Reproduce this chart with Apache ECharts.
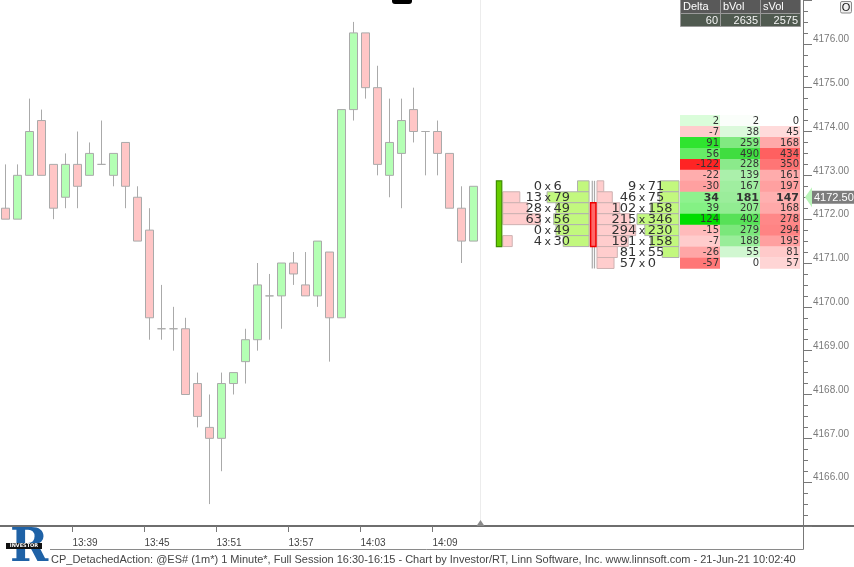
<!DOCTYPE html>
<html>
<head>
<meta charset="utf-8">
<script src="https://cdn.jsdelivr.net/npm/echarts@6.0.0/dist/echarts.min.js"></script>
<style>
html,body{margin:0;padding:0;background:#ffffff;}
#chart{width:854px;height:567px;}
</style>
</head>
<body>
<div id="chart"></div>
<script>
// ---------- data ----------
const times = ['13:33','13:34','13:35','13:36','13:37','13:38','13:39','13:40','13:41','13:42','13:43','13:44','13:45','13:46','13:47','13:48','13:49','13:50','13:51','13:52','13:53','13:54','13:55','13:56','13:57','13:58','13:59','14:00','14:01','14:02','14:03','14:04','14:05','14:06','14:07','14:08','14:09','14:10','14:11','14:12'];
const opens  = [4172.25,4172.0,4173.0,4174.25,4173.25,4172.5,4173.25,4173.0,4173.25,4173.0,4173.75,4172.5,4171.75,4169.5,4169.5,4169.5,4168.25,4167.25,4167.0,4168.25,4168.75,4169.25,4170.25,4170.25,4171.0,4170.5,4170.25,4171.25,4169.75,4174.5,4176.25,4175.0,4173.0,4173.5,4174.5,4174.0,4174.0,4173.5,4172.25,4171.5];
const closes = [4172.0,4173.0,4174.0,4173.0,4172.25,4173.25,4172.75,4173.5,4173.25,4173.5,4172.75,4171.5,4169.75,4169.5,4169.5,4168.0,4167.5,4167.0,4168.25,4168.5,4169.25,4170.5,4170.25,4171.0,4170.75,4170.25,4171.5,4169.75,4174.5,4176.25,4175.0,4173.25,4173.75,4174.25,4174.0,4174.0,4173.5,4172.25,4171.5,4172.75];
const lows   = [4172.0,4172.0,4173.0,4173.0,4172.0,4172.25,4172.25,4173.0,4173.25,4172.75,4172.25,4171.5,4169.25,4169.25,4169.0,4168.0,4167.25,4165.5,4166.25,4168.0,4168.25,4169.0,4169.25,4169.5,4170.5,4170.25,4170.0,4168.75,4169.75,4174.25,4174.75,4173.0,4172.5,4172.25,4173.75,4173.0,4173.0,4172.25,4171.0,4171.5];
const highs  = [4173.25,4173.25,4174.75,4174.5,4173.25,4173.5,4174.0,4173.75,4174.25,4173.5,4173.75,4172.75,4172.25,4170.5,4170.0,4169.75,4168.5,4168.0,4168.5,4168.5,4169.5,4171.0,4170.75,4171.0,4171.25,4171.25,4171.5,4171.25,4174.5,4176.5,4176.25,4175.5,4174.75,4174.75,4175.0,4174.0,4174.25,4173.5,4172.75,4172.75];
const timeTickLabels = ['13:39','13:45','13:51','13:57','14:03','14:09'];
const priceTickLabels = ['4166.00','4167.00','4168.00','4169.00','4170.00','4171.00','4172.00','4173.00','4174.00','4175.00','4176.00'];

// detached footprints (sell x buy per price)
const footprintSlots = [41.15, 49];
const fp1Prices = [4172.75,4172.5,4172.25,4172.0,4171.75,4171.5];
const fp1Sell   = [0,13,28,63,0,4];
const fp1Buy    = [6,79,49,56,49,30];
const fp1Ohlc   = [4171.5,4172.75,4171.5,4172.75]; // open, close, low, high
const fp2Prices = [4172.75,4172.5,4172.25,4172.0,4171.75,4171.5,4171.25,4171.0];
const fp2Sell   = [9,46,102,215,294,191,81,57];
const fp2Buy    = [71,75,158,346,230,158,55,0];
const fp2Ohlc   = [4172.25,4171.5,4171.0,4172.75];

// profile table
const tableHeaders = ['Delta','bVol','sVol'];
const tableTotals  = [60,2635,2575];
const tablePrices  = [4174.25,4174.0,4173.75,4173.5,4173.25,4173.0,4172.75,4172.5,4172.25,4172.0,4171.75,4171.5,4171.25,4171.0];
const tableDelta   = [2,-7,91,56,-122,-22,-30,34,39,124,-15,-7,-26,-57];
const tableBVol    = [2,38,259,490,228,139,167,181,207,402,279,188,55,0];
const tableSVol    = [0,45,168,434,350,161,197,147,168,278,294,195,81,57];
const lastPrice = 4172.5;
const footerText = 'CP_DetachedAction: @ES# (1m*) 1 Minute*, Full Session 16:30-16:15 - Chart by Investor/RT, Linn Software, Inc. www.linnsoft.com - 21-Jun-21 10:02:40';

// ---------- helpers ----------
const TICK = 0.25;
function mix(a, b, t) {
  t = Math.max(0, Math.min(1, t));
  return 'rgb(' + a.map((v, i) => Math.round(v + (b[i] - v) * t)).join(',') + ')';
}
const maxPosD = Math.max(...tableDelta), maxNegD = -Math.min(...tableDelta);
const maxB = Math.max(...tableBVol), maxS = Math.max(...tableSVol);
function cellColor(col, v) {
  if (col === 0) {
    return v >= 0 ? mix([228,255,228],[0,221,0], Math.pow(v / maxPosD, 0.75))
                  : mix([255,226,226],[255,36,36], Math.pow(-v / maxNegD, 0.75));
  }
  if (col === 1) return mix([255,255,255],[64,221,64], Math.pow(v / maxB, 0.65));
  return mix([255,255,255],[255,96,96], Math.pow(v / maxS, 0.65));
}

const candleData = times.map((t, i) => [i, opens[i], closes[i], lows[i], highs[i]]);
const tickPos = timeTickLabels.map(l => times.indexOf(l) - 0.4);

function fpRows(slot, prices, sell, buy) {
  const mx = Math.max(...sell, ...buy);
  return prices.map((p, i) => [slot, p, sell[i], buy[i], mx]);
}
const fpRowData = fpRows(footprintSlots[0], fp1Prices, fp1Sell, fp1Buy)
  .concat(fpRows(footprintSlots[1], fp2Prices, fp2Sell, fp2Buy));
const fpCandleData = [
  [footprintSlots[0]].concat(fp1Ohlc),
  [footprintSlots[1]].concat(fp2Ohlc)
];
const tableData = tablePrices.map((p, i) => [p, tableDelta[i], tableBVol[i], tableSVol[i]]);
const priceLabelData = priceTickLabels.map(s => [parseFloat(s)]);

const FP_FONT = '13px "DejaVu Sans"';

function renderFpRow(params, api) {
  const slot = api.value(0), price = api.value(1), sell = api.value(2), buy = api.value(3), mx = api.value(4);
  const cs = params.coordSys;
  const c = api.coord([slot, price]);
  const h = api.size([0, TICK])[1];
  const top = c[1] - h / 2;
  const xs = c[0] + 3.7;
  const xr = Math.min(c[0] + 90, cs.x + cs.width - 124);
  const xc = c[0] + 48;
  const maxW = 42;
  const children = [];
  if (sell > 0) {
    const w = maxW * Math.sqrt(sell / mx);
    children.push({type:'rect', shape:{x: xs, y: top, width: w, height: h},
      style:{fill:'#ffcdcd', stroke:'#cdb2b2', lineWidth:1}, z2: 1});
  }
  if (buy > 0) {
    const w = maxW * Math.sqrt(buy / mx);
    children.push({type:'rect', shape:{x: xr - w, y: top, width: w, height: h},
      style:{fill:'#c2f87e', stroke:'#b0b0b0', lineWidth:1}, z2: 1});
  }
  children.push({type:'text', z2: 5, style:{text: String(sell), x: xc - 5, y: c[1] + 0.5, align:'right', verticalAlign:'middle', fill:'#333', font: FP_FONT}});
  children.push({type:'text', z2: 5, style:{text: 'x', x: xc + 0.7, y: c[1] + 1, align:'center', verticalAlign:'middle', fill:'#333', font: '11px "DejaVu Sans"'}});
  children.push({type:'text', z2: 5, style:{text: String(buy), x: xc + 6.5, y: c[1] + 0.5, align:'left', verticalAlign:'middle', fill:'#333', font: FP_FONT}});
  return {type:'group', children};
}

function renderFpCandle(params, api) {
  const slot = api.value(0), o = api.value(1), cl = api.value(2), lo = api.value(3), hi = api.value(4);
  const half = TICK / 2;
  const x = api.coord([slot, o])[0];
  const yHi = api.coord([slot, hi + half])[1], yLo = api.coord([slot, lo - half])[1];
  const yTop = api.coord([slot, Math.max(o, cl) + half])[1], yBot = api.coord([slot, Math.min(o, cl) - half])[1];
  const up = cl >= o;
  const children = [
    {type:'line', shape:{x1: x - 1, y1: yHi, x2: x - 1, y2: yLo}, style:{stroke:'#aaaaaa', lineWidth:1.2}},
    {type:'line', shape:{x1: x + 1.2, y1: yHi, x2: x + 1.2, y2: yLo}, style:{stroke:'#aaaaaa', lineWidth:1.2}},
    {type:'rect', shape:{x: x - 2.7, y: yTop, width: 5.4, height: yBot - yTop},
      style: up ? {fill:'#66cc00', stroke:'#3f8f00', lineWidth:1.2} : {fill:'#ff6868', stroke:'#ee0000', lineWidth:1.5}}
  ];
  return {type:'group', children};
}

function renderTable(params, api) {
  const price = api.value(0);
  const vals = [api.value(1), api.value(2), api.value(3)];
  const cs = params.coordSys;
  const right = cs.x + cs.width;
  const yc = api.coord([0, price])[1];
  const h = api.size([0, TICK])[1];
  const colW = 40, left0 = right - 3 * colW - 3;
  const bold = price === lastPrice;
  const children = [];
  vals.forEach((v, i) => {
    const x = left0 + i * colW;
    children.push({type:'rect', shape:{x: x, y: yc - h / 2, width: colW, height: h + 0.3}, style:{fill: cellColor(i, v)}});
    children.push({type:'text', z2: 3, style:{text: String(v), x: x + colW - 1, y: yc + 0.5, align:'right', verticalAlign:'middle',
      fill:'#333', font: bold ? 'bold 11px "DejaVu Sans"' : '10px "DejaVu Sans"'}});
  });
  return {type:'group', children};
}

function renderPriceLabel(params, api) {
  const cs = params.coordSys;
  const right = cs.x + cs.width;
  const y = api.coord([0, api.value(0)])[1];
  return {type:'text', style:{text: priceTickLabels[params.dataIndex], x: right + 10, y: y - 4.5,
    align:'left', verticalAlign:'middle', fill:'#7a7a7a', font:'10px "Liberation Sans"'}};
}

function renderLastPrice(params, api) {
  const cs = params.coordSys;
  const right = cs.x + cs.width;
  const y = api.coord([0, api.value(0)])[1];
  return {type:'group', children:[
    {type:'polygon', shape:{points:[[right + 2, y], [right + 9, y - 10], [right + 9, y + 10]]}, style:{fill:'#b8f4b8'}},
    {type:'rect', shape:{x: right + 9, y: y - 6.5, width: 45, height: 13}, style:{fill:'#7d7d7d'}},
    {type:'text', style:{text: api.value(0).toFixed(2), x: right + 11, y: y + 0.5, align:'left', verticalAlign:'middle', fill:'#ffffff', font:'11px "Liberation Sans"'}}
  ]};
}

function renderSeparator(params, api) {
  const cs = params.coordSys;
  const x = Math.round(api.coord([api.value(0), 4170])[0]) + 0.5;
  const bottom = cs.y + cs.height;
  return {type:'group', children:[
    {type:'line', shape:{x1: x, y1: 0, x2: x, y2: bottom}, style:{stroke:'#ececec', lineWidth:1}},
    {type:'polygon', shape:{points:[[x, bottom - 6], [x - 4, bottom], [x + 4, bottom]]}, style:{fill:'#8a8a8a'}}
  ]};
}

// ---------- static decorations ----------
const graphics = [
  {type:'line', shape:{x1:803, y1:526, x2:854, y2:526}, style:{stroke:'#6e6e6e', lineWidth:2}},
  {type:'line', shape:{x1:803.5, y1:526, x2:803.5, y2:549.5}, style:{stroke:'#777', lineWidth:1}},
  {type:'line', shape:{x1:50, y1:549.5, x2:803.5, y2:549.5}, style:{stroke:'#8a8a8a', lineWidth:1}},
  {type:'text', style:{text: footerText, x: 51, y: 560, verticalAlign:'middle', fill:'#454545', font:'11px "Liberation Sans"'}},
  // top black tab
  {type:'rect', shape:{x:392, y:-4, width:20, height:8, r:3}, style:{fill:'#000'}},
  // O button
  {type:'rect', shape:{x:840.5, y:1.5, width:11, height:11.5, r:1.5}, style:{fill:'#f0f0f0', stroke:'#8a8a8a', lineWidth:1}},
  {type:'text', style:{text:'O', x:846, y:7.5, align:'center', verticalAlign:'middle', fill:'#111', font:'11px "Liberation Sans"'}},
  // logo
  {type:'text', style:{text:'R', x: 10, y: 526, fill:'#1f62a6', font:'bold 46px "DejaVu Serif"'}},
  {type:'rect', shape:{x:6, y:543, width:36, height:6}, style:{fill:'#111'}},
  {type:'text', style:{text:'INVESTOR', x:24, y:546, align:'center', verticalAlign:'middle', fill:'#ffffff', font:'bold 5px "DejaVu Sans"'}}
];
tableHeaders.forEach((hd, i) => {
  const x = 680 + i * 40;
  graphics.push({type:'rect', shape:{x: x + 0.5, y: -0.5, width: 40, height: 14}, style:{fill:'#595959', stroke:'#9a9a9a', lineWidth:1}});
  graphics.push({type:'text', style:{text: hd, x: x + 3, y: 7, verticalAlign:'middle', fill:'#ffffff', font:'11px "Liberation Sans"'}});
  graphics.push({type:'rect', shape:{x: x + 0.5, y: 13.5, width: 40, height: 13}, style:{fill:'#505a50', stroke:'#9a9a9a', lineWidth:1}});
  graphics.push({type:'text', style:{text: String(tableTotals[i]), x: x + 38, y: 20.5, align:'right', verticalAlign:'middle', fill:'#f4f4f4', font:'11px "Liberation Sans"'}});
});

const option = {
  animation: false,
  backgroundColor: '#ffffff',
  grid: {left: 0, right: 51, top: -6.8, bottom: 41, containLabel: false},
  xAxis: {
    type: 'value',
    min: -0.44,
    max: -0.44 + 803 / 12,
    splitLine: {show: false},
    axisLine: {show: true, onZero: false, lineStyle: {color: '#6e6e6e', width: 2}},
    axisTick: {show: true, customValues: tickPos, length: 6, lineStyle: {color: '#777'}},
    axisLabel: {
      customValues: tickPos,
      formatter: v => timeTickLabels[tickPos.findIndex(p => Math.abs(p - v) < 0.01)] || '',
      align: 'left', color: '#444', fontSize: 10, fontFamily: 'Liberation Sans', margin: 12
    }
  },
  yAxis: {
    type: 'value',
    position: 'right',
    min: 4165,
    max: 4177,
    interval: 1,
    splitLine: {show: false},
    axisLine: {show: true, onZero: false, lineStyle: {color: '#777', width: 1}},
    axisTick: {show: true, length: 9, lineStyle: {color: '#777'}},
    minorTick: {show: true, splitNumber: 4, length: 5, lineStyle: {color: '#777'}},
    axisLabel: {show: false}
  },
  graphic: graphics,
  series: [
    {
      type: 'custom', name: 'separator', clip: false, silent: true, z: 1,
      renderItem: renderSeparator, data: [[times.length - 0.44]], encode: {x: 0}
    },
    {
      type: 'candlestick', name: 'ES', z: 2,
      data: candleData,
      encode: {x: 0, y: [1, 2, 3, 4]},
      barWidth: 8,
      itemStyle: {color: '#b4ffb4', color0: '#ffc6c6', borderColor: '#aaaaaa', borderColor0: '#aaaaaa', borderColorDoji: '#aaaaaa', borderWidth: 1}
    },
    {
      type: 'custom', name: 'footprintRows', clip: false, z: 3,
      renderItem: renderFpRow, data: fpRowData, encode: {x: 0, y: 1}
    },
    {
      type: 'custom', name: 'footprintCandles', clip: false, z: 4,
      renderItem: renderFpCandle, data: fpCandleData, encode: {x: 0, y: [1, 2, 3, 4]}
    },
    {
      type: 'custom', name: 'profileTable', clip: false, z: 3,
      renderItem: renderTable, data: tableData, encode: {y: 0}
    },
    {
      type: 'custom', name: 'priceLabels', clip: false, silent: true, z: 5,
      renderItem: renderPriceLabel, data: priceLabelData, encode: {y: 0}
    },
    {
      type: 'custom', name: 'lastPrice', clip: false, z: 6,
      renderItem: renderLastPrice, data: [[lastPrice]], encode: {y: 0}
    }
  ]
};
const chart = echarts.init(document.getElementById('chart'), null, {renderer: 'canvas', width: 854, height: 567});
chart.setOption(option);
</script>
</body>
</html>
